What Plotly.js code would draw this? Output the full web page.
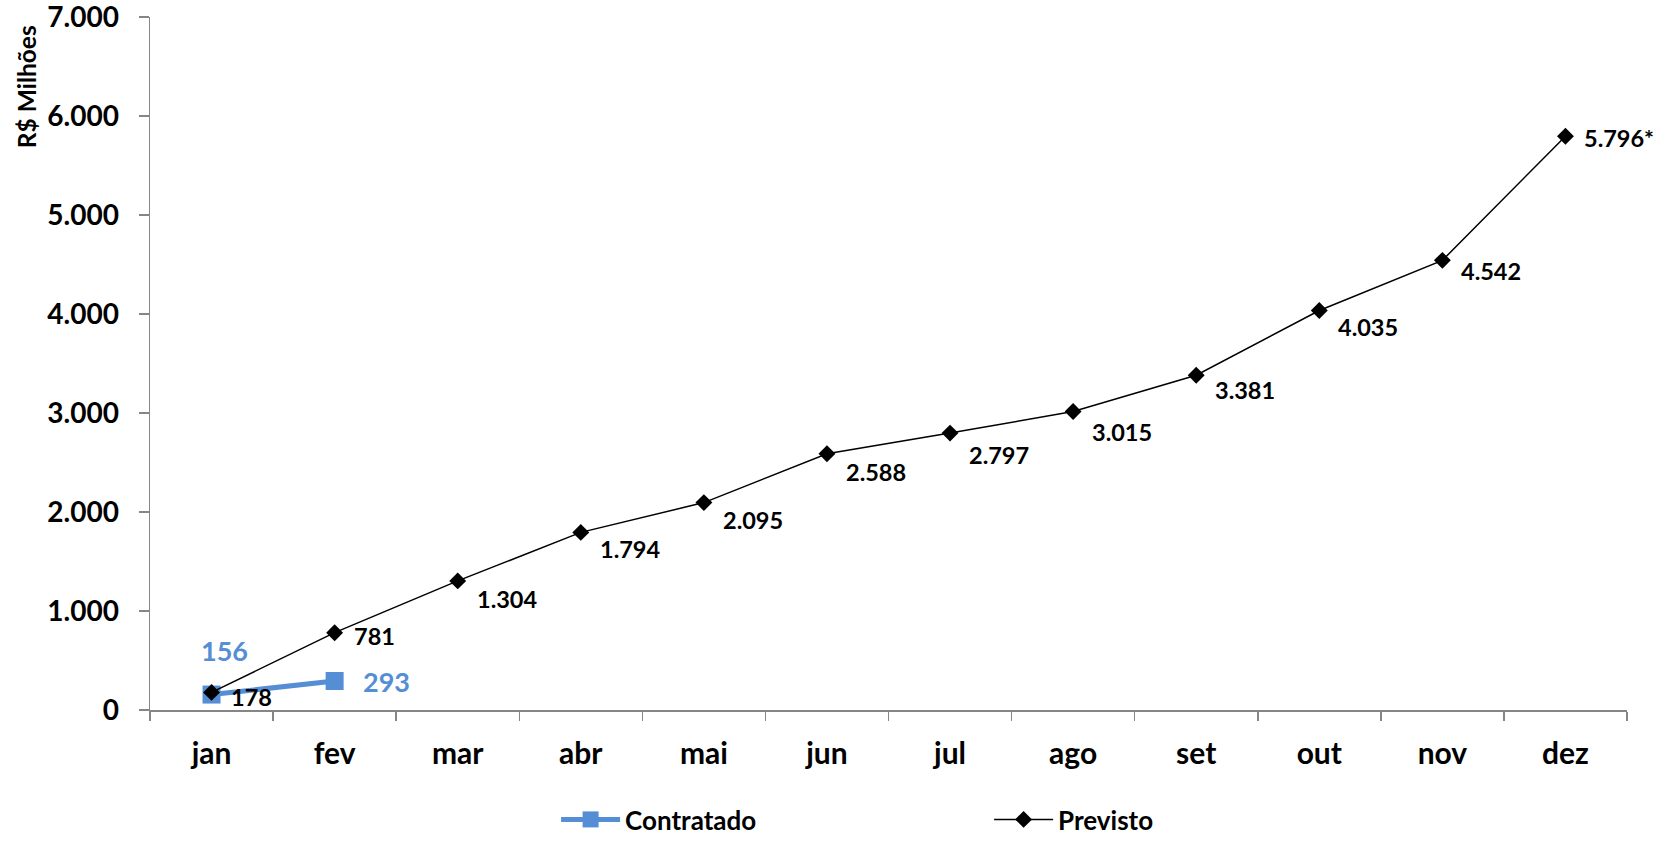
<!DOCTYPE html>
<html>
<head>
<meta charset="utf-8">
<script src="https://cdn.plot.ly/plotly-3.0.1.min.js"></script>
<style>html,body{margin:0;padding:0;background:#fff;}#chart{width:1675px;height:843px;}</style>
</head>
<body>
<div id="chart"></div>
<script>
const months = ['jan','fev','mar','abr','mai','jun','jul','ago','set','out','nov','dez'];
const contratado = [156, 293];
const previsto = [178, 781, 1304, 1794, 2095, 2588, 2797, 3015, 3381, 4035, 4542, 5796];
const previstoNote = ['', '', '', '', '', '', '', '', '', '', '', '*'];

// label offsets (pixels) — style only
const previstoLabelDy = [5, 3, 18, 17, 17, 18, 22, 20, 15, 16, 11, 2];
const contratadoLabelShift = [{dx: 13, dy: 44, anchor: 'center'}, {dx: 26, dy: -1, anchor: 'left'}];

const FONT = 'Lato, "Open Sans", sans-serif';
const BLUE = '#558ed5';
const AXIS = '#868686';

function fmt(v) { return String(v).replace(/\B(?=(\d{3})+(?!\d))/g, '.'); }

const traces = [
  {
    name: 'Contratado', x: months.slice(0, contratado.length), y: contratado,
    type: 'scatter', mode: 'lines+markers',
    line: {color: BLUE, width: 5},
    marker: {symbol: 'square', size: 18, color: BLUE},
    hoverinfo: 'skip'
  },
  {
    name: 'Previsto', x: months, y: previsto,
    type: 'scatter', mode: 'lines+markers',
    line: {color: '#000', width: 1.5},
    marker: {symbol: 'diamond', size: 13, color: '#000'},
    hoverinfo: 'skip'
  }
];

const annotations = [];
previsto.forEach((v, i) => {
  annotations.push({
    x: months[i], y: v, xref: 'x', yref: 'y', showarrow: false,
    text: fmt(v) + previstoNote[i], xanchor: 'left', yanchor: 'middle',
    xshift: 17, yshift: -previstoLabelDy[i],
    font: {family: FONT, size: 23.5, color: '#000', weight: 'bold'}
  });
});
contratado.forEach((v, i) => {
  const s = contratadoLabelShift[i];
  annotations.push({
    x: months[i], y: v, xref: 'x', yref: 'y', showarrow: false,
    text: fmt(v), xanchor: s.anchor, yanchor: 'middle',
    xshift: s.dx, yshift: s.dy,
    font: {family: FONT, size: 27, color: BLUE, weight: 'bold'}
  });
});
annotations.push({
  xref: 'paper', yref: 'paper', x: -0.084, y: 0.9, showarrow: false,
  text: 'R$ Milhões', textangle: -90, xanchor: 'center', yanchor: 'middle',
  font: {family: FONT, size: 24.5, color: '#000', weight: 'bold'}
});

const layout = {
  width: 1675, height: 843,
  margin: {l: 150, r: 48, t: 17, b: 133},
  paper_bgcolor: '#fff', plot_bgcolor: '#fff',
  separators: ',.',
  font: {family: FONT, color: '#000', weight: 'bold'},
  showlegend: true,
  legend: {
    orientation: 'h', xref: 'container', yref: 'container',
    x: 0.332, xanchor: 'left', y: -0.009, yanchor: 'bottom',
    itemwidth: 59, entrywidth: 359, entrywidthmode: 'pixels',
    font: {family: FONT, size: 26, color: '#000', weight: 'bold'}
  },
  xaxis: {
    type: 'category', categoryorder: 'array', categoryarray: months,
    range: [-0.5, 11.5], tickson: 'boundaries',
    ticks: 'outside', ticklen: 9, tickwidth: 1.5, tickcolor: AXIS,
    showline: true, linecolor: AXIS, linewidth: 1.5,
    showgrid: false, zeroline: false, ticklabelstandoff: 16,
    tickfont: {family: FONT, size: 30, color: '#000', weight: 'bold'}
  },
  yaxis: {
    range: [0, 7000], dtick: 1000, tickformat: ',d',
    ticks: 'outside', ticklen: 10, tickwidth: 1.5, tickcolor: AXIS,
    showline: true, linecolor: AXIS, linewidth: 1.5,
    showgrid: false, zeroline: false, ticklabelstandoff: 14,
    ticklabeloverflow: 'allow',
    tickfont: {family: FONT, size: 28, color: '#000', weight: 'bold'}
  },
  annotations: annotations
};

Plotly.newPlot('chart', traces, layout, {displayModeBar: false, staticPlot: true});
</script>
</body>
</html>
